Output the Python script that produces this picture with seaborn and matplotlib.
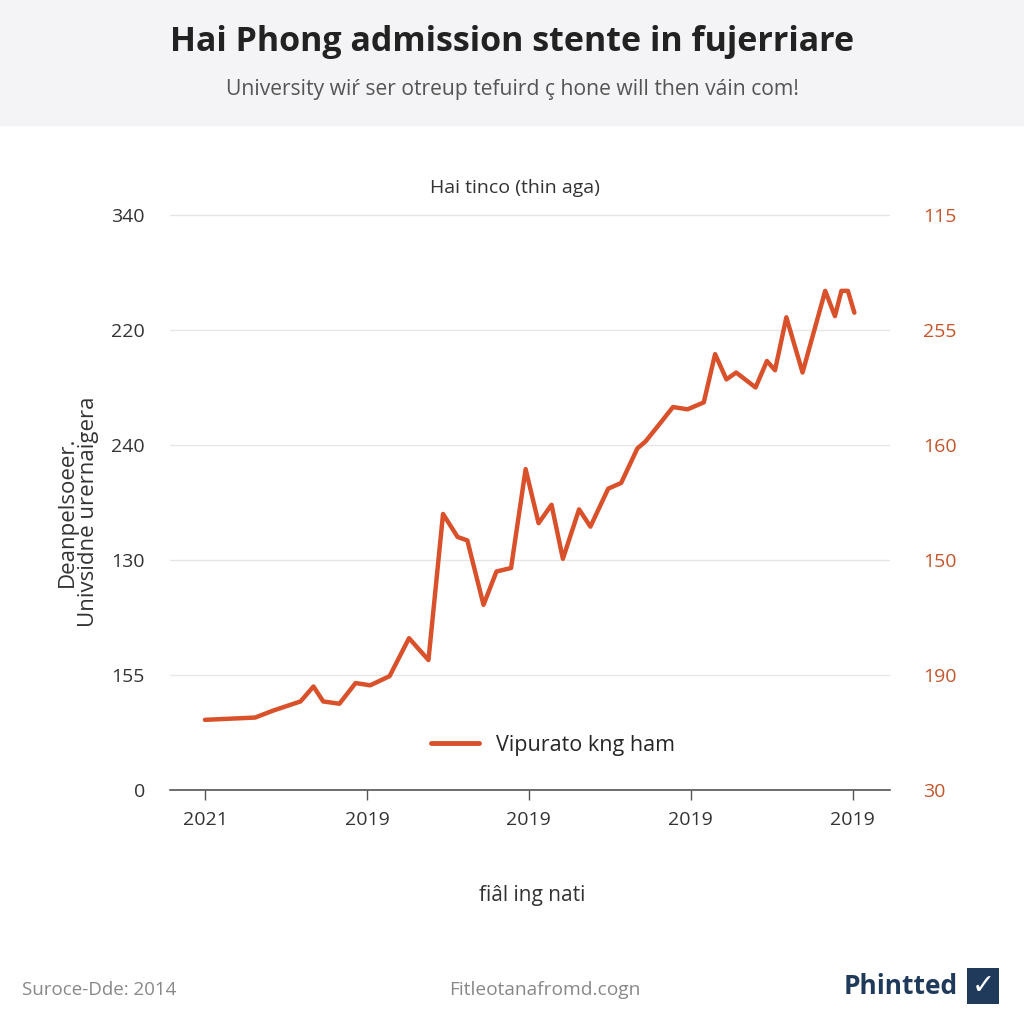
import numpy as np
import pandas as pd
import matplotlib
matplotlib.use("Agg")
import matplotlib.pyplot as plt
from matplotlib.patches import Rectangle
import seaborn as sns

# values (x in tick units, y in gridline units)
x_vals = [0.00, 0.31, 0.42, 0.59, 0.67, 0.73, 0.83, 0.93, 1.02, 1.14, 1.26, 1.38,
          1.47, 1.56, 1.62, 1.72, 1.80, 1.89, 1.98, 2.06, 2.14, 2.21, 2.31, 2.38,
          2.49, 2.57, 2.67, 2.72, 2.80, 2.89, 2.98, 3.08, 3.15, 3.22, 3.28, 3.40,
          3.47, 3.52, 3.59, 3.69, 3.83, 3.89, 3.93, 3.97, 4.01]
y_vals = [0.61, 0.63, 0.69, 0.77, 0.90, 0.77, 0.75, 0.93, 0.91, 0.99, 1.32, 1.13,
          2.40, 2.20, 2.17, 1.61, 1.90, 1.93, 2.79, 2.32, 2.48, 2.01, 2.44, 2.29,
          2.62, 2.67, 2.97, 3.03, 3.17, 3.33, 3.31, 3.37, 3.79, 3.57, 3.63, 3.50,
          3.73, 3.65, 4.11, 3.63, 4.34, 4.12, 4.34, 4.34, 4.15]

x_ticks = [0, 1, 2, 3, 4]
x_labels = ["2021", "2019", "2019", "2019", "2019"]
y_ticks = [0, 1, 2, 3, 4, 5]
left_labels = ["0", "155", "130", "240", "220", "340"]
right_labels = ["30", "190", "150", "160", "255", "115"]

series_name = "Vipurato kng ham"
df = pd.DataFrame({"x": x_vals, "y": y_vals, "series": series_name})

line_color = "#d9512a"
right_color = "#c4552c"

sns.set_theme(style="white")
plt.rcParams["font.family"] = ["Open Sans", "DejaVu Sans"]

fig = plt.figure(figsize=(10.24, 10.24), dpi=100)
fig.patches.append(Rectangle((0, 1 - 125 / 1024), 1, 125 / 1024,
                             transform=fig.transFigure, color="#f4f4f6", zorder=0))

ax = fig.add_axes([170 / 1024, 1 - 790 / 1024, 720 / 1024, 590 / 1024])
sns.lineplot(data=df, x="x", y="y", hue="series", palette=[line_color],
             linewidth=3.2, sort=False, ax=ax)

ax.set_xlim(-0.216, 4.23)
ax.set_ylim(0, 5.13)
ax.set_yticks(y_ticks)
ax.set_yticklabels(left_labels, fontsize=14, color="#333333")
ax.set_xticks(x_ticks)
ax.set_xticklabels(x_labels, fontsize=14, color="#333333")
ax.tick_params(axis="x", length=7, width=1, color="#555555", pad=8, bottom=True)
ax.tick_params(axis="y", length=0, pad=18)
ax.grid(axis="y", color="#e6e6e6", linewidth=1)
for s in ["top", "right", "left"]:
    ax.spines[s].set_visible(False)
ax.spines["bottom"].set_color("#555555")
ax.spines["bottom"].set_linewidth(1.2)
ax.set_xlabel("")
ax.set_ylabel("")

ax2 = ax.twinx()
ax2.set_ylim(ax.get_ylim())
ax2.set_yticks(y_ticks)
ax2.set_yticklabels(right_labels, fontsize=14, color=right_color)
ax2.tick_params(axis="y", length=0, pad=24)
for s in ax2.spines.values():
    s.set_visible(False)
ax2.grid(False)

leg = ax.legend(loc="center", bbox_to_anchor=((553 - 170) / 720, (790 - 745) / 590),
                frameon=False, fontsize=15.5, handlelength=2.2)
for h in leg.get_lines():
    h.set_linewidth(3.5)

fig.text(0.5, 1 - 42 / 1024, "Hai Phong admission stente in fujerriare",
         ha="center", va="center", fontsize=24.5, fontweight="bold", color="#222222")
fig.text(0.5, 1 - 90 / 1024, "University wi\u0155 ser otreup tefuird \u00e7 hone will then v\u00e1in com!",
         ha="center", va="center", fontsize=15.2, color="#555555")
fig.text(515 / 1024, 1 - 188 / 1024, "Hai tinco (thin aga)",
         ha="center", va="center", fontsize=14, color="#333333")
fig.text(78 / 1024, 1 - 512 / 1024, "Deanpelsoeer.\nUnivsidne urernaigerа",
         ha="center", va="center", rotation=90, fontsize=16, color="#333333",
         linespacing=1.0)
fig.text(532 / 1024, 1 - 895 / 1024, "fi\u00e2l ing nati",
         ha="center", va="center", fontsize=15, color="#333333")

fig.text(22 / 1024, 1 - 990 / 1024, "Suroce-Dde: 2014",
         ha="left", va="center", fontsize=13.5, color="#888888")
fig.text(545 / 1024, 1 - 990 / 1024, "Fitleotanafromd.cogn",
         ha="center", va="center", fontsize=13.8, color="#888888")
fig.text(958 / 1024, 1 - 986 / 1024, "Phintted",
         ha="right", va="center", fontsize=19, fontweight="bold", color="#1f3a5a")
fig.text(983 / 1024, 1 - 986 / 1024, "\u2713", ha="center", va="center",
         fontsize=20, fontweight="bold", color="white", family=["DejaVu Sans"],
         bbox=dict(boxstyle="square,pad=0.15", fc="#1f3a5a", ec="none"))

fig.savefig("out.png", dpi=100, facecolor="white")
